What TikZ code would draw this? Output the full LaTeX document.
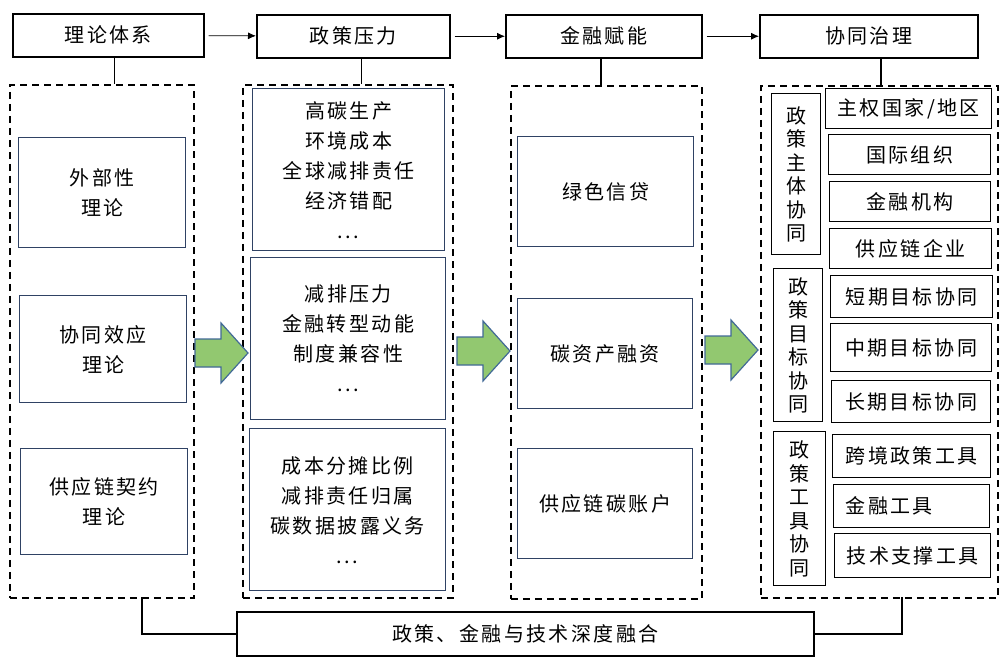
\documentclass[tikz,border=0pt]{standalone}
\usepackage{fontspec}
\setmainfont[LetterSpace=12]{Noto Sans CJK SC}
\usetikzlibrary{arrows.meta}
\definecolor{frameblue}{RGB}{47,66,100}
\definecolor{arrowgreen}{RGB}{146,200,112}
\definecolor{arrowedge}{RGB}{65,105,150}
\tikzset{
  sz/.style 2 args = {anchor=north west, minimum width=#1, minimum height=#2},
  head/.style = {draw, line width=1.5pt, font=\fontsize{20}{30}\selectfont},
  group/.style = {draw, line width=1.5pt, dash pattern=on 7pt off 5pt},
  item/.style = {draw=frameblue, line width=1.4pt, align=center, font=\fontsize{20}{30}\selectfont},
  sub/.style = {draw, line width=1.4pt, align=center, font=\fontsize{20}{23.5}\selectfont},
  leaf/.style = {draw, line width=1.4pt, font=\fontsize{20}{30}\selectfont},
  block/.style = {fill=arrowgreen, draw=arrowedge, line width=1.2pt, line join=miter}
}

\begin{document}
\begin{tikzpicture}[x=1pt,y=-1pt]
  \useasboundingbox (0,0) rectangle (1002,657);
  \node[head,sz={191}{43}] (t1) at (12,13) {理论体系};
  \node[head,sz={193}{43}] (t2) at (256,14) {政策压力};
  \node[head,sz={196}{43}] (t3) at (505,14) {金融赋能};
  \node[head,sz={218}{43}] (t4) at (759,14) {协同治理};

  \node[group,sz={184}{513}] (d1) at (9,84) {};
  \node[group,sz={210}{513}] (d2) at (242,84) {};
  \node[group,sz={191}{513}] (d3) at (510,85) {};
  \node[group,sz={237}{512}] (d4) at (760,85) {};

  \node[item,sz={167}{110}] (a1) at (18,137) {外部性\\理论};
  \node[item,sz={167}{107}] (a2) at (19,295) {协同效应\\理论};
  \node[item,sz={167}{106}] (a3) at (20,448) {供应链契约\\理论};

  \node[item,sz={192}{162}] (b1) at (252,88) {高碳生产\\环境成本\\全球减排责任\\经济错配\\...};
  \node[item,sz={195}{162}] (b2) at (250,257) {减排压力\\金融转型动能\\制度兼容性\\...};
  \node[item,sz={196}{162}] (b3) at (249,428) {成本分摊比例\\减排责任归属\\碳数据披露义务\\...};

  \node[item,sz={176}{110}] (c1) at (517,136) {绿色信贷};
  \node[item,sz={175}{110}] (c2) at (517,298) {碳资产融资};
  \node[item,sz={175}{110}] (c3) at (517,448) {供应链碳账户};

  \node[sub,sz={49}{161}] (p1) at (771,93) {政\\策\\主\\体\\协\\同};
  \node[sub,sz={49}{153}] (p2) at (773,268) {政\\策\\目\\标\\协\\同};
  \node[sub,sz={52}{154}] (p3) at (773,431) {政\\策\\工\\具\\协\\同};

  \node[leaf,sz={166}{40}] (q1) at (825,88) {主权国家/地区};
  \node[leaf,sz={162}{40}] (q2) at (828,134) {国际组织};
  \node[leaf,sz={161}{40}] (q3) at (829,181) {金融机构};
  \node[leaf,sz={162}{40}] (q4) at (829,228) {供应链企业};
  \node[leaf,sz={162}{42}] (q5) at (830,275) {短期目标协同};
  \node[leaf,sz={161}{48}] (q6) at (830,323) {中期目标协同};
  \node[leaf,sz={159}{42}] (q7) at (831,380) {长期目标协同};
  \node[leaf,sz={158}{43}] (q8) at (832,434) {跨境政策工具};
  \node[leaf,sz={156}{43},text width=132,align=left,inner xsep=12] (q9) at (833,484) {金融工具};
  \node[leaf,sz={156}{44}] (q10) at (834,533) {技术支撑工具};

  \node[head,sz={577}{44}] (m) at (236,611) {政策、金融与技术深度融合};
  \coordinate (j1) at (142,597);
  \coordinate (j4) at (902,597);

  \draw[-{Latex[length=8pt,width=7pt]},line width=0.8pt,shorten <=4pt] (t1) -- (t2);
  \draw[-{Latex[length=8pt,width=7pt]},line width=0.8pt,shorten <=4pt] (t2) -- (t3);
  \draw[-{Latex[length=8pt,width=7pt]},line width=0.8pt,shorten <=4pt] (t3) -- (t4);

  \foreach \t/\d/\s in {t1/d1/6,t2/d2/8,t3/d3/-3,t4/d4/12}
    \draw[line width=1.5pt] ([xshift=\s]\t.south) -- ([xshift=\s]\t.south |- \d.north);
  \draw[line width=1.5pt] (j1) |- (m.west);
  \draw[line width=1.5pt] (j4) |- (m.east);

  \foreach \x/\y in {195/353,457/351,705/350}
    \draw[block] (\x,\y-14) -- ++(26,0) -- ++(0,-16) -- ++(27,30) -- ++(-27,30) -- ++(0,-16) -- ++(-26,0) -- cycle;
\end{tikzpicture}
\end{document}
